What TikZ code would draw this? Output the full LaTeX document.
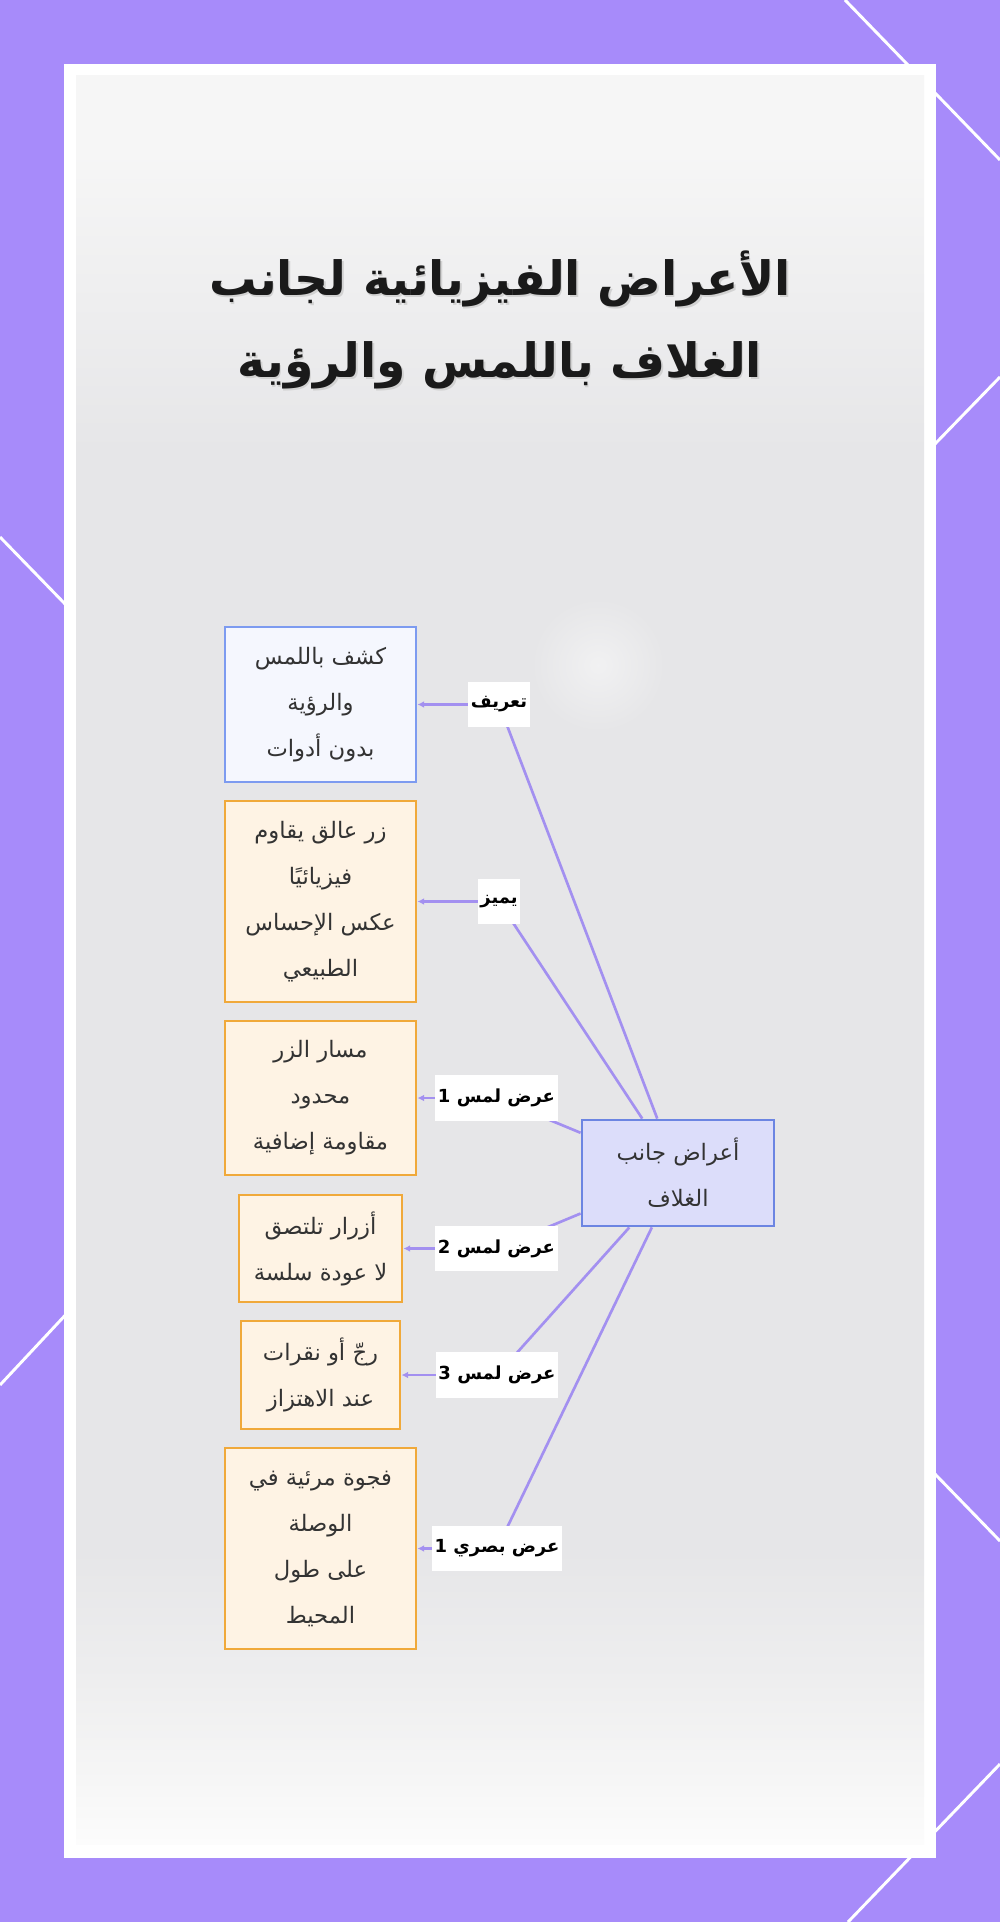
\documentclass[tikz,border=0pt]{standalone}
\usepackage{fontspec}
\newfontfamily\arabicfont[Script=Arabic]{DejaVu Sans}
\TeXXeTstate=1
\usetikzlibrary{arrows.meta,fadings}
\definecolor{purplebg}{HTML}{A78BFA}
\definecolor{conncol}{HTML}{A390F0}
\definecolor{blueB}{HTML}{7D9BF0}
\definecolor{blueF}{HTML}{F5F7FE}
\definecolor{orB}{HTML}{F0A93A}
\definecolor{orF}{HTML}{FEF3E4}
\definecolor{hubB}{HTML}{6C85E2}
\definecolor{hubF}{HTML}{DCDDFA}
\definecolor{textc}{HTML}{333333}
\definecolor{titlec}{HTML}{1A1A1A}
\definecolor{cA}{HTML}{FCFCFC}
\definecolor{cB}{HTML}{F6F6F6}
\definecolor{cC}{HTML}{EEEEEF}
\definecolor{cD}{HTML}{E6E6E8}
\pgfdeclareverticalshading{cardshade}{100bp}{color(0bp)=(cA); color(25bp)=(cA); color(26.8bp)=(cB); color(29.6bp)=(cC); color(33.3bp)=(cD); color(64.4bp)=(cD); color(68.6bp)=(cC); color(72.9bp)=(cB); color(75bp)=(cB); color(100bp)=(cB)}
\tikzfading[name=softspot, inner color=transparent!55, outer color=transparent!100]
\pgfdeclarelayer{bg}
\pgfdeclarelayer{edges}
\pgfsetlayers{bg,edges,main}
\newcommand{\AR}[1]{\beginR #1\endR}
\tikzset{
  nbox/.style={draw, line width=2.1pt, inner sep=0pt, align=center, text=textc,
    font=\arabicfont\fontsize{17}{34.5}\selectfont},
  bluebox/.style={nbox, draw=blueB, fill=blueF},
  orbox/.style={nbox, draw=orB, fill=orF},
  hubbox/.style={nbox, draw=hubB, fill=hubF},
  lab/.style={fill=white, inner xsep=2pt, inner ysep=0pt, minimum height=34pt, text=black,
    font=\arabicfont\bfseries\fontsize{13.5}{16}\selectfont},
  conn/.style={draw=conncol, line width=2pt},
  arr/.style={conn, -{Latex[length=5pt,width=5pt]}},
  frameline/.style={draw=white, line width=2.2pt},
  titlefont/.style={align=center, font=\arabicfont\bfseries\fontsize{35.5}{61.5}\selectfont},
}
\begin{document}
\begin{tikzpicture}[x=0.75pt,y=-0.75pt]
\useasboundingbox (0,0) rectangle (1000,1922);
\begin{pgfonlayer}{bg}
\begin{scope}
\clip (0,0) rectangle (1000,1922);
\fill[purplebg] (0,0) rectangle (1000,1922);
\draw[frameline] (845,0) -- (1000,160);
\draw[frameline] (1000,377) -- (900,480);
\draw[frameline] (0,537) -- (100,640);
\draw[frameline] (100,1278) -- (0,1385);
\draw[frameline] (900,1438) -- (1000,1541);
\draw[frameline] (1000,1764) -- (848,1922);
\fill[white] (64,64) rectangle (936,1858);
\shade[shading=cardshade] (76,76) rectangle (924,1844);
\fill[white, path fading=softspot] (598,665) circle (70);
\end{scope}
\end{pgfonlayer}

% title with faint shadow
\node[titlefont, text=gray!35] (tshadow) at (501.5,321.5)
  {\AR{الأعراض الفيزيائية لجانب}\\\AR{الغلاف باللمس والرؤية}};
\node[titlefont, text=titlec] (title) at (500,320)
  {\AR{الأعراض الفيزيائية لجانب}\\\AR{الغلاف باللمس والرؤية}};

% boxes
\node[bluebox, minimum width=143.25pt, minimum height=116.25pt] (b1) at (320.5,704.5)
  {\AR{كشف باللمس}\\\AR{والرؤية}\\\AR{بدون أدوات}};
\node[orbox, minimum width=143.25pt, minimum height=150.75pt] (b2) at (320.5,901.5)
  {\AR{زر عالق يقاوم}\\\AR{فيزيائيًا}\\\AR{عكس الإحساس}\\\AR{الطبيعي}};
\node[orbox, minimum width=143.25pt, minimum height=115.5pt] (b3) at (320.5,1098)
  {\AR{مسار الزر}\\\AR{محدود}\\\AR{مقاومة إضافية}};
\node[orbox, minimum width=122.25pt, minimum height=80.25pt] (b4) at (320.5,1248.5)
  {\AR{أزرار تلتصق}\\\AR{لا عودة سلسة}};
\node[orbox, minimum width=119.25pt, minimum height=81pt] (b5) at (320.5,1375)
  {\AR{رجّ أو نقرات}\\\AR{عند الاهتزاز}};
\node[orbox, minimum width=143.25pt, minimum height=150.75pt] (b6) at (320.5,1548.5)
  {\AR{فجوة مرئية في}\\\AR{الوصلة}\\\AR{على طول}\\\AR{المحيط}};
\node[hubbox, minimum width=144pt, minimum height=79.5pt] (hub) at (678,1173)
  {\AR{أعراض جانب}\\\AR{الغلاف}};

% labels
\node[lab] (l1) at (499,704.5) {\AR{تعريف}};
\node[lab] (l2) at (499,901.5) {\AR{يميز}};
\node[lab] (l3) at (496.5,1098) {\AR{عرض لمس 1}};
\node[lab] (l4) at (496.5,1248.5) {\AR{عرض لمس 2}};
\node[lab] (l5) at (497,1375) {\AR{عرض لمس 3}};
\node[lab] (l6) at (497,1548.5) {\AR{عرض بصري 1}};

\begin{pgfonlayer}{edges}
\foreach \i in {1,...,6}{
  \draw[conn] (hub) -- (l\i.center);
  \draw[arr] (l\i.center) -- (b\i.east);
}
\end{pgfonlayer}
\end{tikzpicture}
\end{document}
